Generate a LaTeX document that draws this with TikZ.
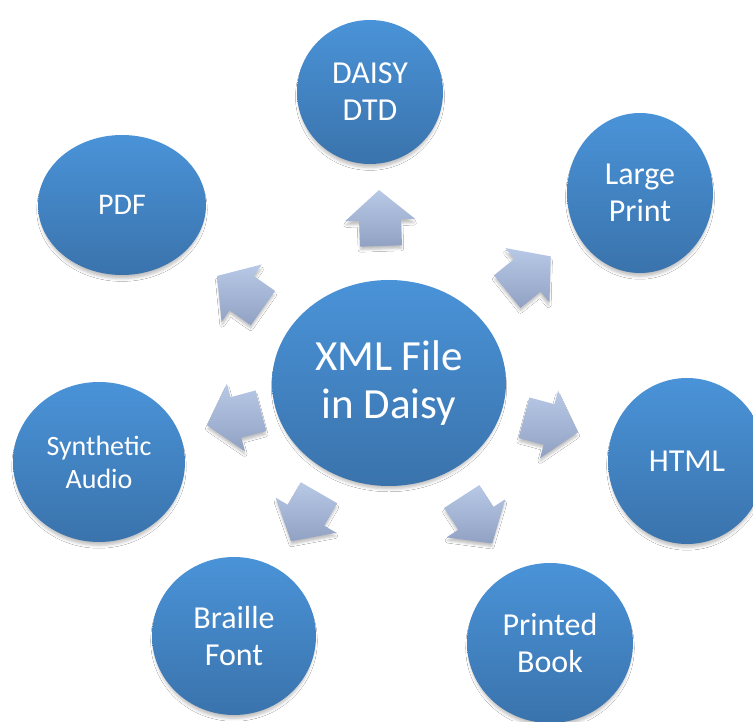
\documentclass[tikz,border=0pt]{standalone}
\usepackage{fontspec}
\setmainfont{Carlito}
\usetikzlibrary{shapes.geometric,calc,shadows.blur}
\definecolor{circtop}{RGB}{74,147,216}
\definecolor{circbot}{RGB}{58,115,172}
\definecolor{arrtop}{RGB}{184,201,231}
\definecolor{arrbot}{RGB}{145,161,195}
\tikzset{
  bubble/.style={ellipse, inner sep=0pt, text=white, align=center,
    top color=circtop, bottom color=circbot,
    blur shadow={shadow xshift=0pt, shadow yshift=-5pt, shadow scale=0.98, shadow blur radius=3pt, shadow opacity=25},
    font=\fontsize{32}{37}\selectfont},
  arrowshape/.style={top color=arrtop, bottom color=arrbot,
    blur shadow={shadow xshift=0pt, shadow yshift=-4pt, shadow scale=0.97, shadow blur radius=2.5pt, shadow opacity=25}}
}
\newcommand\blockarr[3]{%
  \coordinate (#1) at (#2);
  \path[arrowshape]
    ($(#1)+(#3:-28pt)+(#3+90:-21pt)$) --
    ($(#1)+(#3:-2pt)+(#3+90:-21pt)$) --
    ($(#1)+(#3:-2pt)+(#3+90:-35pt)$) --
    ($(#1)+(#3:28pt)$) --
    ($(#1)+(#3:-2pt)+(#3+90:35pt)$) --
    ($(#1)+(#3:-2pt)+(#3+90:21pt)$) --
    ($(#1)+(#3:-28pt)+(#3+90:21pt)$) -- cycle;
}
\begin{document}
\begin{tikzpicture}[x=1pt,y=1pt]
\useasboundingbox[fill=white] (0,0) rectangle (753,721);
% circles
\node[bubble, minimum width=234pt, minimum height=206pt, font=\fontsize{43}{48}\selectfont] (xml) at (389,338) {XML File\\in Daisy};
\node[bubble, minimum width=146pt, minimum height=144pt] (dtd) at (370,629) {DAISY\\DTD};
\node[bubble, minimum width=146pt, minimum height=160pt] (large) at (640,528) {Large\\Print};
\node[bubble, minimum width=168pt, minimum height=140pt, font=\fontsize{30}{36}\selectfont] (pdf) at (122,516) {PDF};
\node[bubble, minimum width=158pt, minimum height=166pt] (html) at (687,260) {HTML};
\node[bubble, minimum width=166pt, minimum height=160pt] (book) at (550,78) {Printed\\Book};
\node[bubble, minimum width=164pt, minimum height=158pt] (braille) at (234,85) {Braille\\Font};
\node[bubble, minimum width=172pt, minimum height=160pt, font=\fontsize{28}{33}\selectfont] (audio) at (99,259) {Synthetic\\Audio};
% block arrows
\blockarr{a1}{380,503}{92}
\blockarr{a2}{240,429}{145}
\blockarr{a3}{529,447}{39}
\blockarr{a4}{551,296}{-15}
\blockarr{a5}{477,201}{-57}
\blockarr{a6}{305,204}{-120}
\blockarr{a7}{234,303}{-165}
\end{tikzpicture}
\end{document}
